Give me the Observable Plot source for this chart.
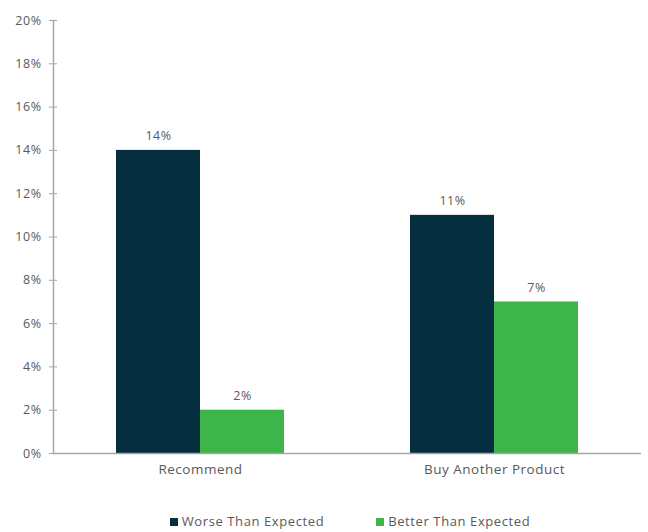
<!DOCTYPE html>
<html><head><meta charset="utf-8">
<script src="https://cdn.jsdelivr.net/npm/d3@7"></script>
<script src="https://cdn.jsdelivr.net/npm/@observablehq/plot@0.6"></script>
<style>
body{margin:0;background:#fff;font-family:"Open Sans",sans-serif;}
#legend{display:flex;justify-content:center;gap:52px;font-size:13px;letter-spacing:0.6px;color:#595959;margin-top:0px;padding-left:52px;line-height:15px;}
#legend span.sw{display:inline-block;width:8px;height:8px;margin-right:4px;vertical-align:0px;}
svg text{letter-spacing:0.5px;}
</style></head>
<body><div id="chart"></div>
<div id="legend"></div>
<script>
const categories = ["Recommend", "Buy Another Product"];
const series = ["Worse Than Expected", "Better Than Expected"];
const worse = [14, 11];
const better = [2, 7];
const colors = ["#052e3e", "#3db54a"];
const yTicks = [0,2,4,6,8,10,12,14,16,18,20];

const data = [];
categories.forEach((c,i)=>{
  data.push({cat:c, s:series[0], v:worse[i]});
  data.push({cat:c, s:series[1], v:better[i]});
});

const H = 514;
const plot = Plot.plot({
  width: 648, height: H,
  marginLeft: 53, marginRight: 7, marginTop: 20, marginBottom: H-453,
  style: {fontFamily: "Open Sans, sans-serif", fontSize: "12px", color: "#595959"},
  fx: {domain: categories, padding: 0, label: null},
  x: {domain: series, paddingInner: 0, paddingOuter: 0.75, axis: null},
  y: {domain: [0,20], label: null},
  color: {domain: series, range: colors},
  marks: [
    Plot.barY(data, {fx:"cat", x:"s", y:"v", fill:"s", inset:0}),
    Plot.text(data, {fx:"cat", x:"s", y:"v", text: d=>d.v+"%", dy:-14, fill:"#595959", fontSize:12.5}),
    Plot.ruleY([0], {stroke:"#a6a6a6", strokeWidth:1.5}),
    Plot.axisY({ticks: yTicks, tickFormat: d=>d+"%", tickSize: 4, tickPadding: 8, stroke:"#a6a6a6", fill:"#595959", fontSize:12.5, label:null}),
    Plot.axisY({ticks: yTicks, tickFormat: () => "", tickSize: -4, stroke:"#a6a6a6", label:null}),
    Plot.frame({anchor:"left", stroke:"#a6a6a6", strokeWidth:1.5, facetAnchor:"left"}),
    Plot.axisFx({anchor:"bottom", tickSize:0, tickPadding:11, fontSize:13.5, fill:"#595959", label:null})
  ]
});
document.getElementById("chart").appendChild(plot);

const lg = document.getElementById("legend");
series.forEach((s,i)=>{
  const d = document.createElement("div");
  d.innerHTML = `<span class="sw" style="background:${colors[i]}"></span>${s}`;
  lg.appendChild(d);
});
</script>
</body></html>
